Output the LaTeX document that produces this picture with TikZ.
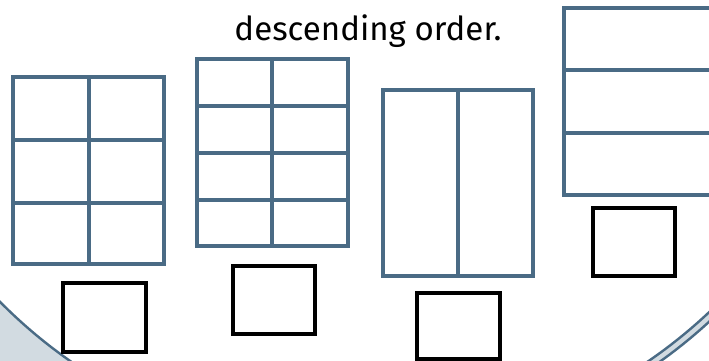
\documentclass[tikz,border=0pt]{standalone}
\usepackage{fontspec}
\setmainfont{Fira Sans}
\definecolor{gridblue}{HTML}{4A6B85}
\definecolor{bandgray}{HTML}{D2DBE1}
\begin{document}
\begin{tikzpicture}[x=1pt,y=-1pt,
  gridline/.style={draw=gridblue,line width=3.3pt},
  answerbox/.style={draw=black,line width=3.4pt},
  rimline/.style={draw=gridblue,line width=2.4pt}]
\useasboundingbox (0,0) rectangle (709,361);
\coordinate (c) at (362,-56);
% left: grey outside the circle
\fill[bandgray] ([shift={(215:509pt)}]c) arc[start angle=215,end angle=245,radius=509pt] -- (-50,500) -- cycle;
\draw[rimline] ([shift={(215:509pt)}]c) arc[start angle=215,end angle=245,radius=509pt];
% right: double rim
\draw[bandgray,line width=8pt] ([shift={(-62:509.5pt)}]c) arc[start angle=-62,end angle=-38,radius=509.5pt];
\draw[rimline] ([shift={(-62:513pt)}]c) arc[start angle=-62,end angle=-38,radius=513pt];
\draw[rimline] ([shift={(-62:506pt)}]c) arc[start angle=-62,end angle=-38,radius=506pt];
% grid 1
\draw[gridline] (13,77) rectangle (164,264);
\draw[gridline] (89,77) -- (89,264);
\draw[gridline] (13,140) -- (164,140) (13,203) -- (164,203);
% grid 2
\draw[gridline] (197,59) rectangle (348,246);
\draw[gridline] (272,59) -- (272,246);
\draw[gridline] (197,106) -- (348,106) (197,153) -- (348,153) (197,200) -- (348,200);
% grid 3
\draw[gridline] (383,90) rectangle (533,276);
\draw[gridline] (458,90) -- (458,276);
% grid 4
\draw[gridline] (720,8) -- (564,8) -- (564,195) -- (720,195);
\draw[gridline] (564,70) -- (720,70) (564,133) -- (720,133);
% answer boxes
\draw[answerbox] (63,283) rectangle (146,352);
\draw[answerbox] (233,266) rectangle (315,334);
\draw[answerbox] (417,293) rectangle (500,359);
\draw[answerbox] (593,208) rectangle (675,276);
\node[anchor=base,inner sep=0pt] (title) at (368,41) {\resizebox{267pt}{!}{descending order.}};
\end{tikzpicture}
\end{document}
